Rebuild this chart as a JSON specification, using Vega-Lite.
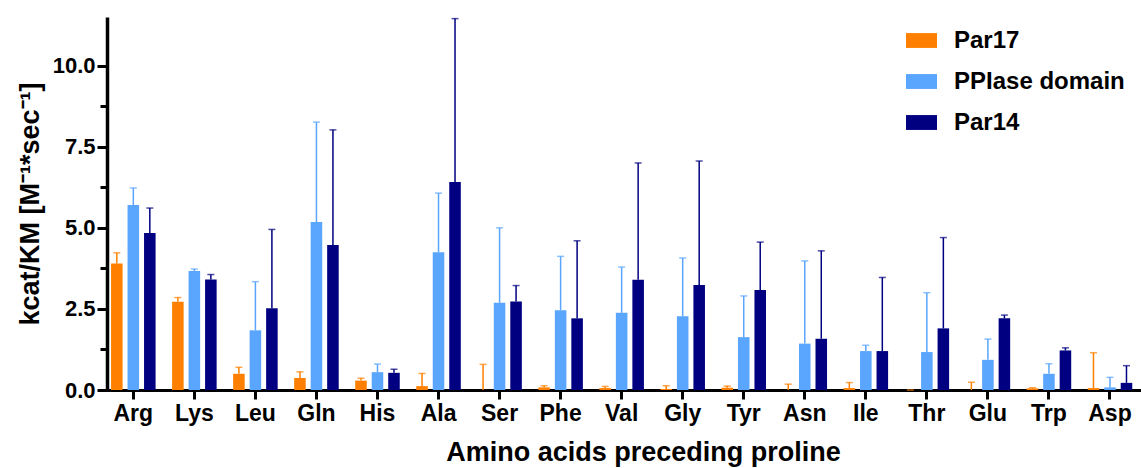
{
  "$schema": "https://vega.github.io/schema/vega-lite/v6.json",
  "autosize": "none",
  "width": 1034,
  "height": 373,
  "padding": {"left": 107, "top": 17, "right": 0, "bottom": 78},
  "background": "white",
  "config": {
    "view": {"stroke": null},
    "font": "Liberation Sans",
    "axis": {
      "domainColor": "black",
      "domainWidth": 3,
      "tickColor": "black",
      "tickWidth": 3,
      "grid": false,
      "labelFont": "Liberation Sans",
      "labelFontWeight": "bold",
      "labelColor": "black",
      "titleFont": "Liberation Sans",
      "titleFontWeight": "bold",
      "titleColor": "black"
    },
    "legend": {
      "labelFont": "Liberation Sans",
      "labelFontWeight": "bold",
      "labelColor": "black"
    }
  },
  "data": {
    "values": [
      {"aa": "Arg", "series": "Par17", "value": 3.9, "upper": 4.23},
      {"aa": "Arg", "series": "PPIase domain", "value": 5.7, "upper": 6.23},
      {"aa": "Arg", "series": "Par14", "value": 4.84, "upper": 5.61},
      {"aa": "Lys", "series": "Par17", "value": 2.72, "upper": 2.85},
      {"aa": "Lys", "series": "PPIase domain", "value": 3.67, "upper": 3.73},
      {"aa": "Lys", "series": "Par14", "value": 3.41, "upper": 3.56},
      {"aa": "Leu", "series": "Par17", "value": 0.5, "upper": 0.7},
      {"aa": "Leu", "series": "PPIase domain", "value": 1.84, "upper": 3.34},
      {"aa": "Leu", "series": "Par14", "value": 2.52, "upper": 4.95},
      {"aa": "Gln", "series": "Par17", "value": 0.37, "upper": 0.56},
      {"aa": "Gln", "series": "PPIase domain", "value": 5.18, "upper": 8.26},
      {"aa": "Gln", "series": "Par14", "value": 4.47, "upper": 8.02},
      {"aa": "His", "series": "Par17", "value": 0.29, "upper": 0.36},
      {"aa": "His", "series": "PPIase domain", "value": 0.55, "upper": 0.8},
      {"aa": "His", "series": "Par14", "value": 0.53, "upper": 0.64},
      {"aa": "Ala", "series": "Par17", "value": 0.12, "upper": 0.51},
      {"aa": "Ala", "series": "PPIase domain", "value": 4.25, "upper": 6.07},
      {"aa": "Ala", "series": "Par14", "value": 6.41, "upper": 11.45},
      {"aa": "Ser", "series": "Par17", "value": 0.0, "upper": 0.79},
      {"aa": "Ser", "series": "PPIase domain", "value": 2.69, "upper": 5.0},
      {"aa": "Ser", "series": "Par14", "value": 2.73, "upper": 3.22},
      {"aa": "Phe", "series": "Par17", "value": 0.08, "upper": 0.13},
      {"aa": "Phe", "series": "PPIase domain", "value": 2.46, "upper": 4.12},
      {"aa": "Phe", "series": "Par14", "value": 2.21, "upper": 4.6},
      {"aa": "Val", "series": "Par17", "value": 0.06, "upper": 0.11},
      {"aa": "Val", "series": "PPIase domain", "value": 2.38, "upper": 3.79},
      {"aa": "Val", "series": "Par14", "value": 3.4, "upper": 7.0},
      {"aa": "Gly", "series": "Par17", "value": 0.03, "upper": 0.13},
      {"aa": "Gly", "series": "PPIase domain", "value": 2.27, "upper": 4.07},
      {"aa": "Gly", "series": "Par14", "value": 3.24, "upper": 7.06},
      {"aa": "Tyr", "series": "Par17", "value": 0.07, "upper": 0.12},
      {"aa": "Tyr", "series": "PPIase domain", "value": 1.63, "upper": 2.9},
      {"aa": "Tyr", "series": "Par14", "value": 3.08, "upper": 4.56},
      {"aa": "Asn", "series": "Par17", "value": 0.0, "upper": 0.18},
      {"aa": "Asn", "series": "PPIase domain", "value": 1.43, "upper": 3.98},
      {"aa": "Asn", "series": "Par14", "value": 1.58, "upper": 4.29},
      {"aa": "Ile", "series": "Par17", "value": 0.06, "upper": 0.23},
      {"aa": "Ile", "series": "PPIase domain", "value": 1.2, "upper": 1.38},
      {"aa": "Ile", "series": "Par14", "value": 1.2, "upper": 3.47},
      {"aa": "Thr", "series": "Par17", "value": 0.0, "upper": 0.0},
      {"aa": "Thr", "series": "PPIase domain", "value": 1.17, "upper": 3.0},
      {"aa": "Thr", "series": "Par14", "value": 1.9, "upper": 4.7},
      {"aa": "Glu", "series": "Par17", "value": 0.0, "upper": 0.24},
      {"aa": "Glu", "series": "PPIase domain", "value": 0.93, "upper": 1.57},
      {"aa": "Glu", "series": "Par14", "value": 2.21, "upper": 2.31},
      {"aa": "Trp", "series": "Par17", "value": 0.05, "upper": 0.07},
      {"aa": "Trp", "series": "PPIase domain", "value": 0.5, "upper": 0.81},
      {"aa": "Trp", "series": "Par14", "value": 1.22, "upper": 1.3},
      {"aa": "Asp", "series": "Par17", "value": 0.06, "upper": 1.15},
      {"aa": "Asp", "series": "PPIase domain", "value": 0.08, "upper": 0.39},
      {"aa": "Asp", "series": "Par14", "value": 0.22, "upper": 0.75}
    ]
  },
  "encoding": {
    "x": {
      "field": "aa",
      "type": "nominal",
      "sort": null,
      "scale": {"range": [-4.2, 1033.5], "paddingInner": 0, "paddingOuter": 0},
      "axis": {
        "title": "Amino acids preceding proline",
        "labelAngle": 0,
        "labelFontSize": 23,
        "labelPadding": 3,
        "tickSize": 9,
        "titleFontSize": 27,
        "titleX": 536,
        "titleY": 70,
        "titleBaseline": "alphabetic"
      }
    },
    "y": {
      "field": "value",
      "type": "quantitative",
      "scale": {"domain": [0, 11.5], "nice": false, "zero": true},
      "axis": {
        "title": "kcat/KM [M⁻¹*sec⁻¹]",
        "domainColor": "#000000",
        "domainWidth": 3.5,
        "tickColor": "#000000",
        "tickWidth": 3,
        "values": [0, 1.25, 2.5, 3.75, 5, 6.25, 7.5, 8.75, 10],
        "labelExpr": "datum.value % 2.5 === 0 ? format(datum.value, '.1f') : ''",
        "labelFontSize": 22,
        "labelPadding": 2,
        "tickSize": {"condition": {"test": "datum.value % 2.5 === 0", "value": 10}, "value": 7},
        "titleFontSize": 27,
        "titlePadding": 8
      }
    },
    "xOffset": {
      "field": "series",
      "type": "nominal",
      "sort": ["Par17", "PPIase domain", "Par14"],
      "scale": {"paddingInner": 0.3, "paddingOuter": 0.5}
    },
    "color": {
      "field": "series",
      "type": "nominal",
      "sort": ["Par17", "PPIase domain", "Par14"],
      "scale": {
        "domain": ["Par17", "PPIase domain", "Par14"],
        "range": ["#FF8000", "#5AA5FD", "#000080"]
      },
      "legend": {
        "title": null,
        "orient": "none",
        "legendX": 799,
        "legendY": 8,
        "symbolType": "M-1,-0.48H1V0.48H-1Z",
        "symbolSize": 961,
        "symbolStrokeWidth": 0,
        "symbolOpacity": 1,
        "labelFontSize": 24,
        "labelOffset": 17,
        "labelLimit": 400,
        "rowPadding": 13
      }
    }
  },
  "layer": [
    {
      "mark": {"type": "bar", "opacity": 1}
    },
    {
      "mark": {"type": "rule", "strokeWidth": 1.5},
      "encoding": {
        "y2": {"field": "upper"}
      }
    },
    {
      "mark": {"type": "tick", "thickness": 1.5, "size": 7},
      "encoding": {
        "y": {"field": "upper", "type": "quantitative"}
      }
    }
  ]
}
